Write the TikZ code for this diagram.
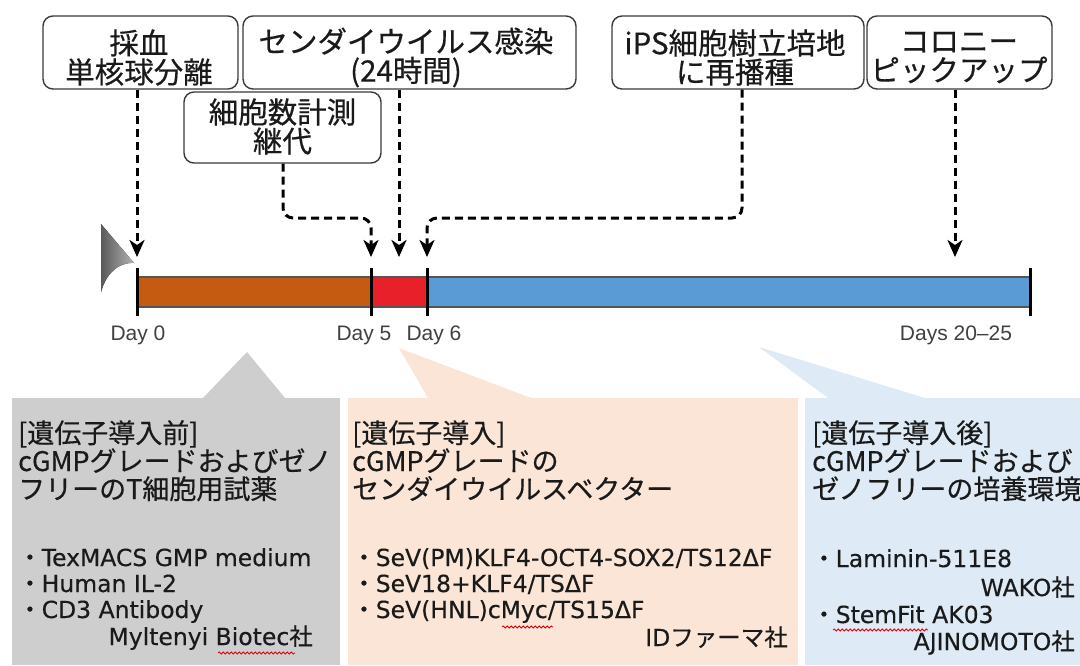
\documentclass[tikz,border=0pt]{standalone}
\usepackage{fontspec}
\setmainfont[FakeBold=0.35]{DejaVu Sans}
\newfontfamily\cjk[FakeBold=0.45]{Noto Sans CJK JP}
\newfontfamily\dayf{Liberation Sans}
\usetikzlibrary{arrows.meta,calc,decorations.pathmorphing}
\definecolor{barbrown}{HTML}{C55A11}
\definecolor{barred}{HTML}{E8202A}
\definecolor{barblue}{HTML}{5B9BD5}
\definecolor{pgray}{HTML}{CECECE}
\definecolor{ppeach}{HTML}{FBE5D6}
\definecolor{pblue}{HTML}{DEEAF6}
\definecolor{txt}{HTML}{1A1A1A}
\definecolor{boxline}{HTML}{3A3A3A}
\definecolor{daytxt}{HTML}{404040}
\definecolor{barline}{HTML}{555555}
\newcommand\jbul{{\cjk ・}}
\newcommand\jsha{{\cjk 社}}
\tikzset{
  stepbox/.style={draw=boxline, line width=1.4pt, rounded corners=10pt, fill=white, inner sep=0pt},
  boxtext/.style={font=\cjk\fontsize{29.5}{29}\selectfont, align=center, text=txt, inner sep=0pt},
  dasharrow/.style={line width=3pt, dash pattern=on 8pt off 5pt, rounded corners=10pt,
    -{Stealth[length=17pt,width=15pt,inset=5pt]}},
  tickline/.style={line width=3pt, black},
  daylabel/.style={font=\dayf\fontsize{21}{24}\selectfont, text=daytxt, anchor=base, inner sep=0pt},
  hdr/.style={font=\cjk\fontsize{27}{28}\selectfont, text=txt, anchor=base west, inner sep=0pt},
  bul/.style={font=\fontsize{23.5}{27}\selectfont, text=txt, anchor=base west, inner sep=0pt},
  bulr/.style={bul, anchor=base east},
  wavy/.style={draw=red!85!black, line width=0.8pt, decorate,
    decoration={snake, segment length=4pt, amplitude=1pt}}
}
\begin{document}
\begin{tikzpicture}[x=1pt,y=-1pt]
\useasboundingbox (0,0) rectangle (1080,665);

% ---- bottom panels with pointers ----
\fill[pgray] (247,352) -- (285,398) -- (203,398) -- cycle;
\fill[ppeach] (399,348) -- (531,398) -- (428,398) -- cycle;
\fill[pblue] (759,347) -- (925,398) -- (828,398) -- cycle;
\fill[pgray] (12,398) rectangle (340,665);
\fill[ppeach] (348,398) rectangle (798,665);
\fill[pblue] (805,398) rectangle (1080,665);

% ---- grey artefact at left of the bar ----
\fill[left color=black!65, right color=black!30]
  (101,224) -- (134,263) .. controls (118,262) and (106,274) .. (101,292) -- cycle;

% ---- timeline bar ----
\fill[barbrown] (137,277) rectangle (371,307);
\fill[barred] (371,277) rectangle (427,307);
\fill[barblue] (427,277) rectangle (1030,307);
\draw[barline, line width=1.5pt] (137,277) -- (1030,277);
\draw[barline, line width=1.5pt] (137,307) -- (1030,307);
\draw[tickline] (137,268) -- (137,316);
\draw[tickline] (371,268) -- (371,316);
\draw[tickline] (427,268) -- (427,316);
\draw[tickline] (1030,268) -- (1030,316);

\node[daylabel] (d0) at (138,340) {Day 0};
\node[daylabel] (d5) at (364,340) {Day 5};
\node[daylabel] (d6) at (434,340) {Day 6};
\node[daylabel] (d25) at (956,340) {Days 20–25};

% ---- top boxes ----
\node[stepbox, minimum width=195pt, minimum height=73pt] (b1) at (140.5,52.5) {};
\node[boxtext] (t1) at (139,57.5) {採血\\単核球分離};
\node[stepbox, minimum width=333pt, minimum height=73pt] (b2) at (409.5,52.5) {};
\node[boxtext] (t2) at (406,57.5) {センダイウイルス感染\\(24時間)};
\node[stepbox, minimum width=197pt, minimum height=71pt] (b3) at (282.5,127.5) {};
\node[boxtext] (t3) at (282.5,126.5) {細胞数計測\\継代};
\node[stepbox, minimum width=252pt, minimum height=73pt] (b4) at (738,52.5) {};
\node[boxtext] (t4) at (735,57.5) {iPS細胞樹立培地\\に再播種};
\node[stepbox, minimum width=185pt, minimum height=73pt] (b5) at (959.5,52.5) {};
\node[boxtext] (t5) at (959,57.5) {コロニー\\ピックアップ};

% ---- arrow targets ----
\coordinate (tip0) at (137,257);
\coordinate (tip5) at (371,257);
\coordinate (tipM) at (399,257);
\coordinate (tip6) at (427,257);
\coordinate (tipE) at (955,257);
\coordinate (k3) at (283,218);
\coordinate (k4) at (742,218);

\draw[dasharrow] (b1.south -| tip0) -- (tip0);
\draw[dasharrow] (b3.south -| k3) -- (k3) -- (k3 -| tip5) -- (tip5);
\draw[dasharrow] (b2.south -| tipM) -- (tipM);
\draw[dasharrow] (b4.south -| k4) -- (k4) -- (k4 -| tip6) -- (tip6);
\draw[dasharrow] (b5.south -| tipE) -- (tipE);

% ---- grey panel text ----
\node[hdr] (g1) at (18,443) {[遺伝子導入前]};
\node[hdr] (g2) at (18,471) {cGMPグレードおよびゼノ};
\node[hdr] (g3) at (18,499) {フリーのT細胞用試薬};
\node[bul] (g4) at (18,566) {\jbul TexMACS GMP medium};
\node[bul] (g5) at (18,592) {\jbul Human IL-2};
\node[bul] (g6) at (18,618) {\jbul CD3 Antibody};
\node[bulr] (g7) at (313,645) {Myltenyi Biotec\jsha};

% ---- peach panel text ----
\node[hdr] (p1) at (352,443) {[遺伝子導入]};
\node[hdr] (p2) at (352,471) {cGMPグレードの};
\node[hdr] (p3) at (352,499) {センダイウイルスベクター};
\node[bul] (p4) at (352,566) {\jbul SeV(PM)KLF4-OCT4-SOX2/TS12ΔF};
\node[bul] (p5) at (352,592) {\jbul SeV18+KLF4/TSΔF};
\node[bul] (p6) at (352,618) {\jbul SeV(HNL)cMyc/TS15ΔF};
\node[bulr] (p7) at (788,646) {ID{\cjk ファーマ社}};

% ---- blue panel text ----
\node[hdr] (u1) at (812,443) {[遺伝子導入後]};
\node[hdr] (u2) at (812,471) {cGMPグレードおよび};
\node[hdr] (u3) at (812,499) {ゼノフリーの培養環境};
\node[bul] (u4) at (812,567) {\jbul Laminin-511E8};
\node[bulr] (u5) at (1075,596) {WAKO\jsha};
\node[bul] (u6) at (812,623) {\jbul StemFit AK03};
\node[bulr] (u7) at (1075,650) {AJINOMOTO\jsha};

% ---- spell-check underlines ----
\draw[wavy] (218,653) -- (295,653);
\draw[wavy] (502,627) -- (553,627);
\draw[wavy] (833,630) -- (928,630);
\end{tikzpicture}
\end{document}
